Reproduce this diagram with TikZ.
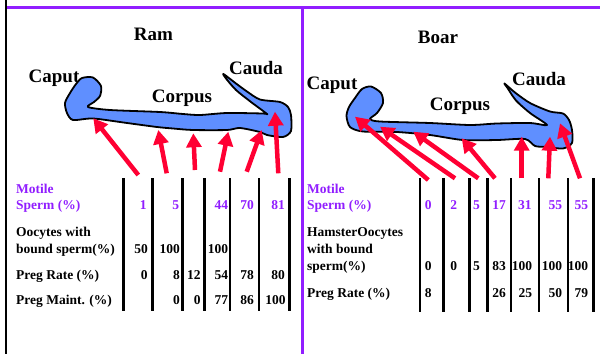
\documentclass[tikz,border=0pt]{standalone}
\usepackage{fontspec}
\setmainfont{Liberation Serif}
\usetikzlibrary{arrows.meta}

\definecolor{violetline}{RGB}{145,30,255}
\definecolor{arrowred}{RGB}{255,0,51}
\definecolor{ductblue}{RGB}{95,143,255}

\tikzset{
  biglabel/.style={inner sep=0pt, anchor=base, font=\fontsize{19}{22}\selectfont\bfseries},
  rowlabel/.style={inner sep=0pt, anchor=base west, font=\fontsize{13.5}{16}\selectfont\bfseries},
  motilelabel/.style={rowlabel, text=violetline},
  num/.style={inner sep=0pt, anchor=base east, font=\fontsize{13.5}{16}\selectfont\bfseries},
  motilenum/.style={num, text=violetline},
  colrule/.style={line width=2.5pt, black},
  duct/.style={fill=ductblue, draw=black, line width=1.8pt, line join=round},
  redarrow/.style={draw=arrowred, line width=4.5pt, -{Triangle[length=14pt,width=15pt]}},
  frameblack/.style={line width=2.5pt, black},
  frameviolet/.style={line width=3pt, violetline}
}

\begin{document}
\begin{tikzpicture}[x=1pt, y=-1pt]
\useasboundingbox (0,0) rectangle (600,354);

% outer frame
\draw[frameblack] (6,0) -- (6,354);
\draw[frameviolet] (7,7.5) -- (600,7.5);
\draw[frameviolet] (302.5,9) -- (302.5,354);

% ---------------- Ram ----------------
\node[biglabel] (ramtitle) at (153.5,40.7) {Ram};

\draw[duct] plot[smooth cycle, tension=0.45] coordinates {
  (88,107) (110,110) (160,112) (183,114) (200,115) (227,113) (263,113.5) (267,114)
  (251,102) (236,90) (226,78.5) (223.5,74)
  (236,83.5) (247,91.5) (260,99.5) (280,102) (288,107) (291,115) (291,131) (283,137)
  (267,135) (260,132) (240,128) (227,130) (193,130) (173,128.5) (157,127)
  (127,123) (93,118.5) (73,120) (67,113) (65,103) (70,93) (76,84) (82,78)
  (93,77.5) (101,86) (100,96) (94,102)};

\node[biglabel] (ramcaput) at (54,82) {Caput};
\node[biglabel] (ramcorpus) at (182,102) {Corpus};
\node[biglabel] (ramcauda) at (256,74) {Cauda};

% arrows from the table columns to the duct
\coordinate (rt1) at (138.3,175);   \coordinate (rh1) at (93.3,118.3);
\coordinate (rt2) at (166.7,173.3); \coordinate (rh2) at (158.3,130);
\coordinate (rt3) at (195,170);     \coordinate (rh3) at (193.3,133.3);
\coordinate (rt4) at (220,171.7);   \coordinate (rh4) at (228.3,131.7);
\coordinate (rt5) at (246.7,171.7); \coordinate (rh5) at (261.7,130);
\coordinate (rt6) at (278.3,173.3); \coordinate (rh6) at (275,111.7);
\foreach \i in {1,...,6} \draw[redarrow] (rt\i) -- (rh\i);

% column rules
\foreach \x [count=\i] in {123.3,152.7,182.7,204.3,230,259,289.3} {
  \coordinate (rtop\i) at (\x,178);
  \coordinate (rbot\i) at (\x,311);
  \draw[colrule] (rtop\i) -- (rbot\i);
}

% row labels
\node[motilelabel] (rl1) at (16,193.3) {Motile};
\node[motilelabel] (rl2) at (16,209.3) {Sperm (\%)};
\node[rowlabel] (rl3) at (16,236) {Oocytes with};
\node[rowlabel] (rl4) at (16,253) {bound sperm(\%)};
\node[rowlabel] (rl5) at (16,279.3) {Preg Rate (\%)};
\node[rowlabel] (rl6) at (16,304.3) {Preg Maint. (\%)};

% motile sperm
\node[motilenum] (rm1) at (146.7,209.3) {1};
\node[motilenum] (rm2) at (179.3,209.3) {5};
\node[motilenum] (rm4) at (228.3,209.3) {44};
\node[motilenum] (rm5) at (254,209.3) {70};
\node[motilenum] (rm6) at (285,209.3) {81};
% oocytes with bound sperm
\node[num] (ro1) at (148,253) {50};
\node[num] (ro2) at (180,253) {100};
\node[num] (ro4) at (228.3,253) {100};
% pregnancy rate
\node[num] (rp1) at (147.7,279.3) {0};
\node[num] (rp2) at (180,279.3) {8};
\node[num] (rp3) at (200.7,279.3) {12};
\node[num] (rp4) at (228.3,279.3) {54};
\node[num] (rp5) at (254,279.3) {78};
\node[num] (rp6) at (285,279.3) {80};
% pregnancy maintenance
\node[num] (rn2) at (180,304.3) {0};
\node[num] (rn3) at (200.7,304.3) {0};
\node[num] (rn4) at (228.3,304.3) {77};
\node[num] (rn5) at (254,304.3) {86};
\node[num] (rn6) at (285.7,304.3) {100};

% ---------------- Boar ----------------
\node[biglabel] (boartitle) at (438,43) {Boar};

\draw[duct] plot[smooth cycle, tension=0.45] coordinates {
  (370,119) (380,121.5) (430,123) (470,125) (497,123.5) (530,123) (547,125)
  (530,113) (516,100.5) (507.5,88) (504.5,83.5)
  (515,92.5) (530,103) (550,111.5) (563,113.5) (569,120) (572,130) (572,143)
  (563,148.5) (547,147) (535,146) (525,139) (497,140) (463,140) (430,135)
  (397,132) (363,131.5) (350,127) (346.5,116) (349,107) (355,98) (362,89)
  (371,86.5) (381,93) (383,103) (377,113)};

\node[biglabel] (boarcaput) at (332,89) {Caput};
\node[biglabel] (boarcorpus) at (460,110) {Corpus};
\node[biglabel] (boarcauda) at (539,85) {Cauda};

\coordinate (bt1) at (428.3,180);   \coordinate (bh1) at (355,116.7);
\coordinate (bt2) at (455,178.3);   \coordinate (bh2) at (380,126.7);
\coordinate (bt3) at (478.3,178.3); \coordinate (bh3) at (413.3,131.7);
\coordinate (bt4) at (495,178.3);   \coordinate (bh4) at (461.7,138.3);
\coordinate (bt5) at (521.7,178.3); \coordinate (bh5) at (521.7,136.7);
\coordinate (bt6) at (548.3,178.3); \coordinate (bh6) at (550,136.7);
\coordinate (bt7) at (580,178.3);   \coordinate (bh7) at (560,123.3);
\foreach \i in {1,...,7} \draw[redarrow] (bt\i) -- (bh\i);

\foreach \x [count=\i] in {420,443.5,469.3,487.7,511,539.2,567.8,593.5} {
  \coordinate (btop\i) at (\x,178);
  \coordinate (bbot\i) at (\x,311.5);
  \draw[colrule] (btop\i) -- (bbot\i);
}

\node[motilelabel] (bl1) at (307,193.3) {Motile};
\node[motilelabel] (bl2) at (307,209.3) {Sperm (\%)};
\node[rowlabel] (bl3) at (307,236) {HamsterOocytes};
\node[rowlabel] (bl4) at (307,253) {with bound};
\node[rowlabel] (bl5) at (307,270) {sperm(\%)};
\node[rowlabel] (bl6) at (307,297.5) {Preg Rate (\%)};

% motile sperm
\node[motilenum] (bm1) at (431.7,209.3) {0};
\node[motilenum] (bm2) at (457.3,209.3) {2};
\node[motilenum] (bm3) at (480,209.3) {5};
\node[motilenum] (bm4) at (506,209.3) {17};
\node[motilenum] (bm5) at (531.7,209.3) {31};
\node[motilenum] (bm6) at (562.3,209.3) {55};
\node[motilenum] (bm7) at (588.3,209.3) {55};
% hamster oocytes with bound sperm
\node[num] (bo1) at (431.7,270) {0};
\node[num] (bo2) at (457.3,270) {0};
\node[num] (bo3) at (480,270) {5};
\node[num] (bo4) at (506,270) {83};
\node[num] (bo5) at (532.3,270) {100};
\node[num] (bo6) at (562.3,270) {100};
\node[num] (bo7) at (588.3,270) {100};
% pregnancy rate
\node[num] (bp1) at (431.7,297.5) {8};
\node[num] (bp4) at (506,297.5) {26};
\node[num] (bp5) at (532.3,297.5) {25};
\node[num] (bp6) at (562.3,297.5) {50};
\node[num] (bp7) at (588.3,297.5) {79};
\end{tikzpicture}
\end{document}
